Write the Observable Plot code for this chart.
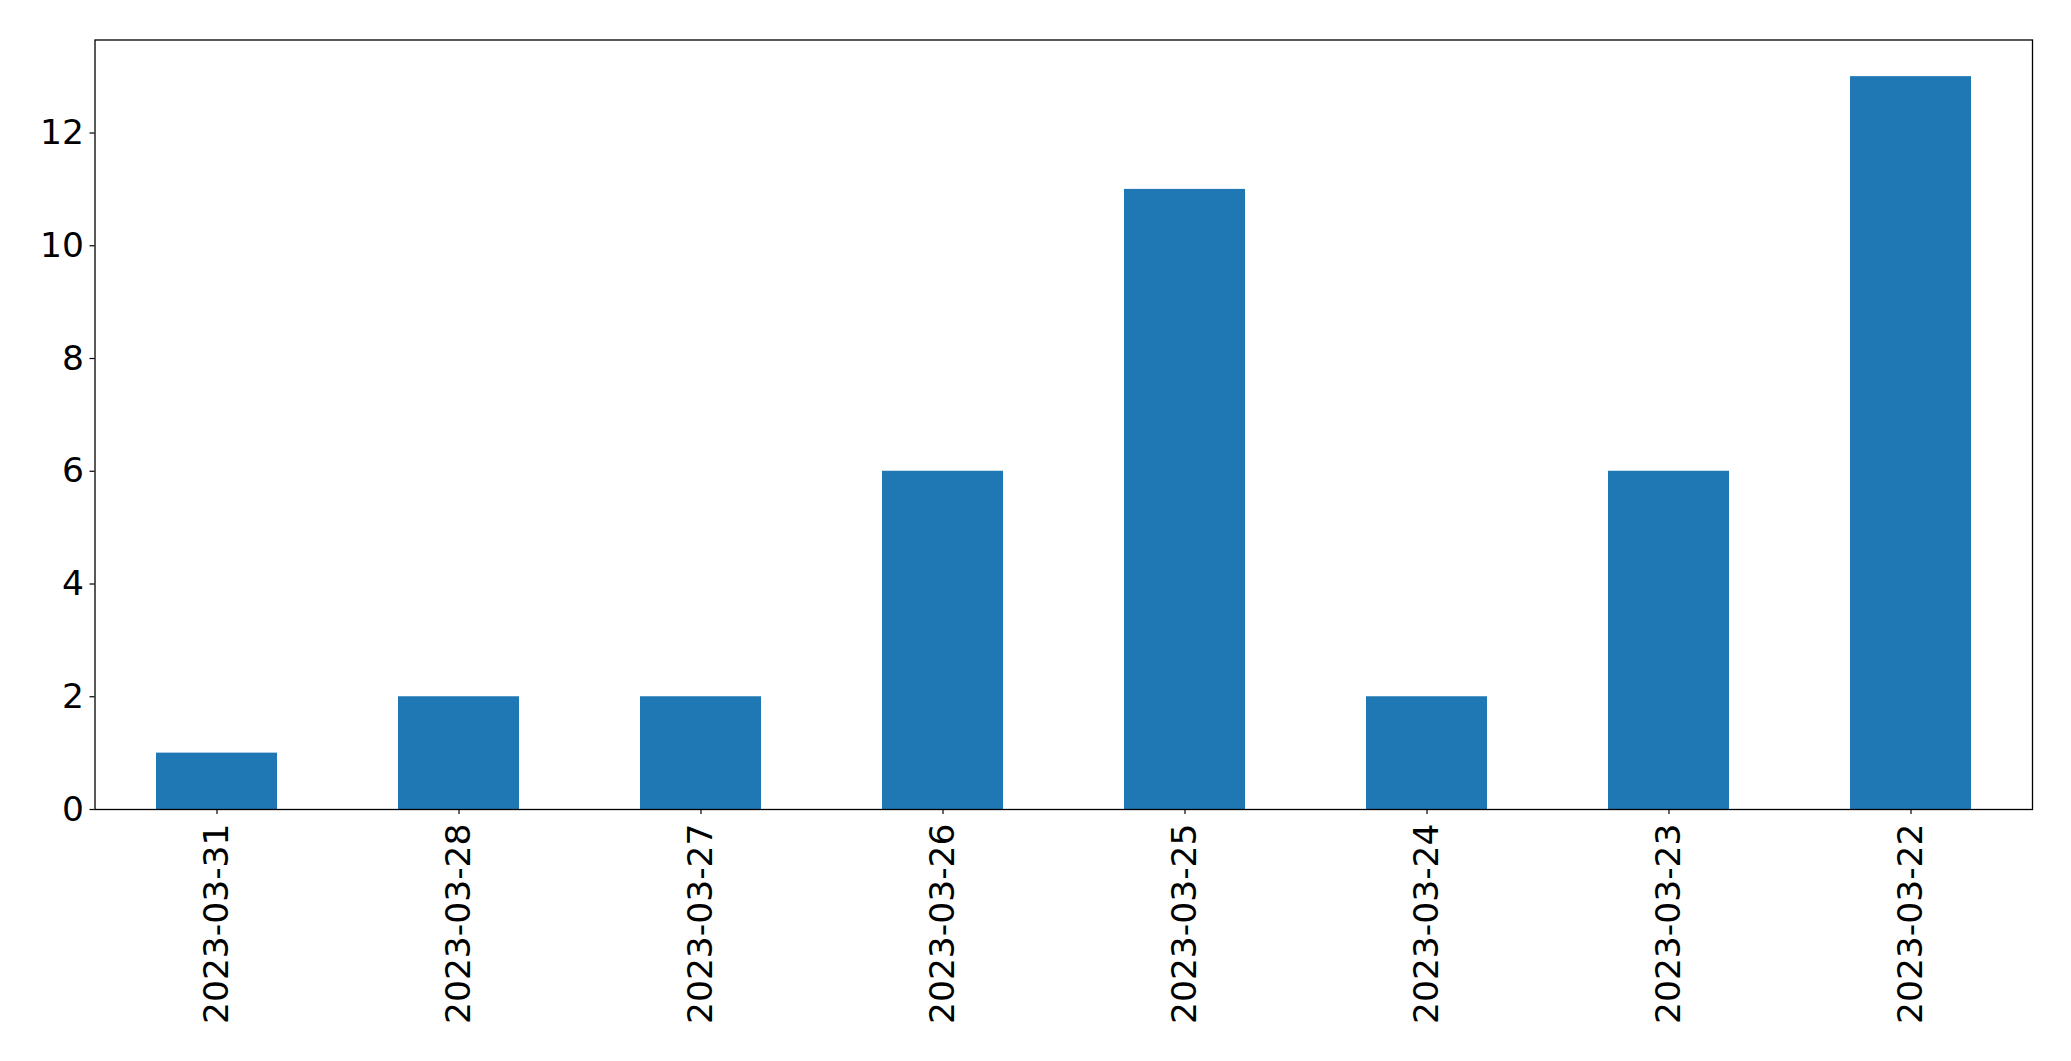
<!DOCTYPE html>
<html>
<head>
<meta charset="utf-8">
<script src="https://cdn.jsdelivr.net/npm/d3@7"></script>
<script src="https://cdn.jsdelivr.net/npm/@observablehq/plot@0.6"></script>
<style>
  html, body { margin: 0; padding: 0; background: #fff; }
  #chart svg { display: block; }
</style>
</head>
<body>
<div id="chart"></div>
<script>
const dates = ["2023-03-31", "2023-03-28", "2023-03-27", "2023-03-26", "2023-03-25", "2023-03-24", "2023-03-23", "2023-03-22"];
const counts = [1, 2, 2, 6, 11, 2, 6, 13];
const yTicks = [0, 2, 4, 6, 8, 10, 12];

const data = dates.map((d, i) => ({date: d, count: counts[i]}));

const chart = Plot.plot({
  width: 2071,
  height: 1061,
  marginLeft: 94.5,
  marginRight: 39,
  marginTop: 39.5,
  marginBottom: 252,
  style: {fontFamily: "DejaVu Sans", fontSize: "34.5px", color: "#000", background: "#fff"},
  x: {type: "band", domain: dates, paddingInner: 0.5, paddingOuter: 0.25, label: null},
  y: {domain: [0, 13.65], label: null},
  marks: [
    Plot.barY(data, {x: "date", y: "count", fill: "#1f77b4"}),
    Plot.axisX({tickRotate: -90, tickSize: 5, tickPadding: 9, fontSize: 34.5, label: null, stroke: "#000", strokeWidth: 1.2}),
    Plot.axisY({ticks: yTicks, tickSize: 5, tickPadding: 6, fontSize: 34.5, label: null, stroke: "#000", strokeWidth: 1.2}),
    Plot.frame({stroke: "#000", strokeWidth: 1.3})
  ]
});
document.getElementById("chart").appendChild(chart);
</script>
</body>
</html>
